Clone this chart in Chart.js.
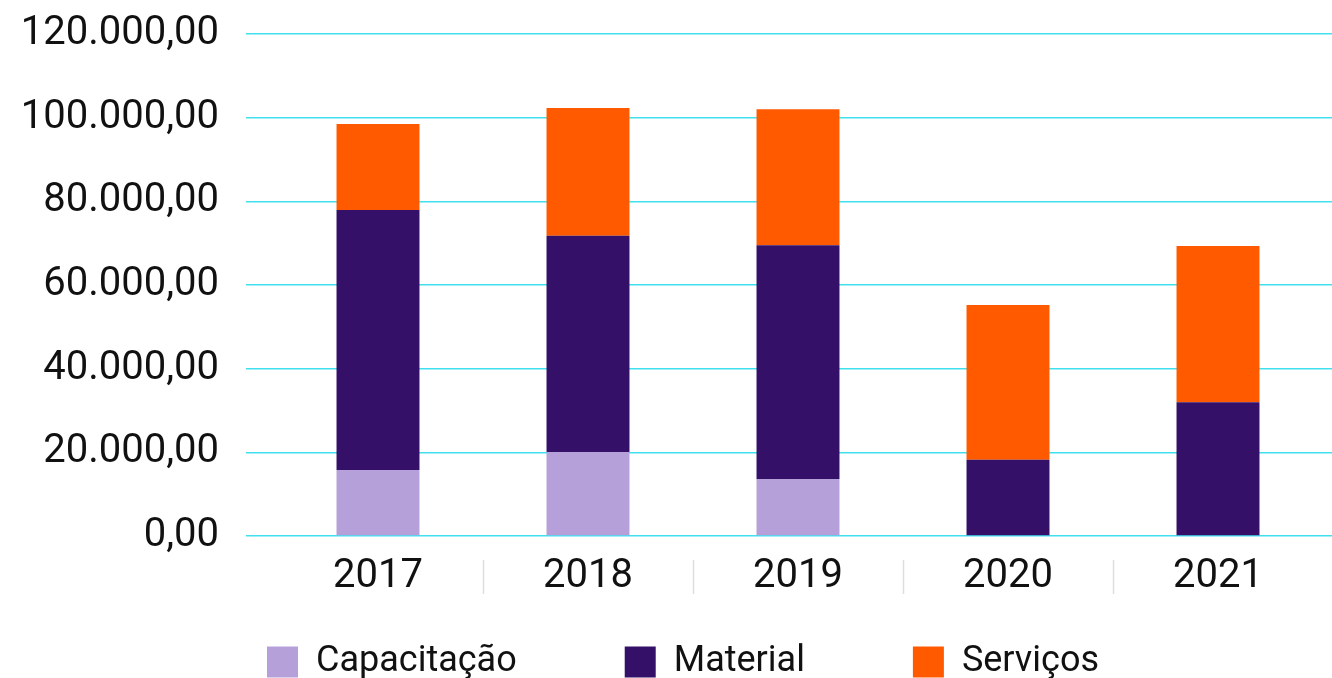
<!DOCTYPE html>
<html lang="pt-BR">
<head>
<meta charset="utf-8">
<title>Despesas por ano</title>
<script src="https://cdn.jsdelivr.net/npm/chart.js@4.4.1/dist/chart.umd.min.js"></script>
<style>
    html, body { margin: 0; padding: 0; background: #fff; overflow: hidden; }
    #wrap { width: 1332px; height: 690px; position: relative; }
</style>
</head>
<body>
<div id="wrap"><canvas id="gastosChart"></canvas></div>
<script>
const anos = ['2017', '2018', '2019', '2020', '2021'];
const capacitacao = [15800, 20100, 13600, 0, 0];
const material = [62100, 51700, 55900, 18200, 32000];
const servicos = [20600, 30500, 32500, 37000, 37300];
const yMin = 0;
const yMax = 120000;
const yStep = 20000;

// 120000 -> "120.000,00"
function formatBR(v) {
    const parts = Number(v).toFixed(2).split('.');
    return parts[0].replace(/\B(?=(\d{3})+(?!\d))/g, '.') + ',' + parts[1];
}

document.addEventListener('DOMContentLoaded', () => {
    const gridCor = 'rgba(0, 214, 232, 0.75)';
    const fonte = 'Roboto, "Noto Sans", sans-serif';

    const ctx = document.getElementById('gastosChart');
    new Chart(ctx, {
        type: 'bar',
        data: {
            labels: anos,
            datasets: [
                { label: 'Capacitação', data: capacitacao, backgroundColor: '#B6A0DA' },
                { label: 'Material', data: material, backgroundColor: '#341069' },
                { label: 'Serviços', data: servicos, backgroundColor: '#FF5A00' }
            ]
        },
        options: {
            responsive: true,
            maintainAspectRatio: false,
            devicePixelRatio: 1,
            animation: false,
            // marge droite négative : la légende se centre un peu plus à droite
            layout: { padding: { top: 34, left: 0, right: -34, bottom: 0 } },
            datasets: {
                bar: { barPercentage: 0.395, categoryPercentage: 1, borderWidth: 0 }
            },
            plugins: {
                tooltip: { enabled: false },
                legend: {
                    position: 'bottom',
                    labels: {
                        font: { family: fonte, size: 36 },
                        color: '#111',
                        boxWidth: 31,
                        boxHeight: 31,
                        padding: 108
                    }
                }
            },
            scales: {
                x: {
                    stacked: true,
                    border: { display: false },
                    grid: {
                        offset: true,
                        drawOnChartArea: false,
                        tickLength: 59,
                        tickWidth: 1.5,
                        tickBorderDash: [0, 24, 34, 200],
                        tickColor: (c) => (c.type !== 'tick' || c.index === 0) ? 'rgba(0,0,0,0)' : '#dddddd'
                    },
                    ticks: {
                        font: { family: fonte, size: 40 },
                        color: '#111',
                        mirror: true, // pas de découpe des libellés
                        padding: -65,
                        maxRotation: 0
                    },
                    // les libellés débordent dans la zone (vide) de la légende
                    afterFit: (s) => { s.height = 0; }
                },
                y: {
                    stacked: true,
                    min: yMin,
                    max: yMax,
                    z: 1,
                    border: { display: false },
                    grid: { color: gridCor, lineWidth: 1.5, tickLength: 27 },
                    ticks: {
                        stepSize: yStep,
                        font: { family: fonte, size: 40, lineHeight: 0.1 },
                        color: '#111',
                        padding: 27,
                        callback: (v) => formatBR(v)
                    },
                    afterFit: (s) => { s.width = 273; }
                },
                yDireita: {
                    position: 'right',
                    min: yMin,
                    max: yMax,
                    z: 1,
                    border: { display: false },
                    grid: { drawOnChartArea: false, color: gridCor, lineWidth: 1.5, tickLength: 9 },
                    ticks: { display: false, stepSize: yStep },
                    afterFit: (s) => { s.width = 43; }
                }
            }
        }
    });
});
</script>
</body>
</html>
